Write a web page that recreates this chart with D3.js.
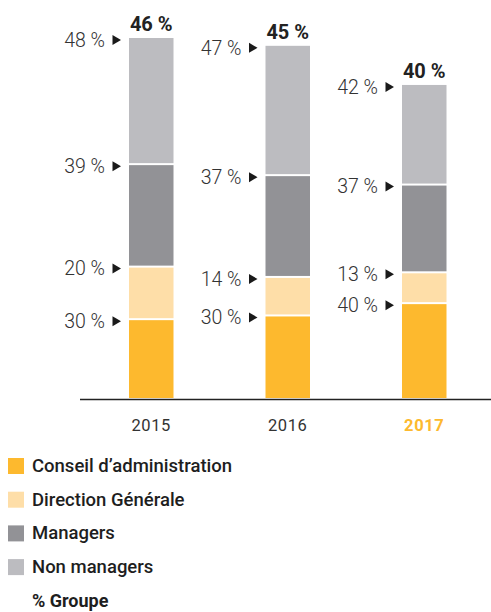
<!DOCTYPE html>
<html>
<head>
<meta charset="utf-8">
<script src="https://cdn.jsdelivr.net/npm/d3@7"></script>
<style>
  html, body { margin: 0; padding: 0; background: #fff; }
  svg { display: block; font-family: Roboto, "Noto Sans", sans-serif; }
</style>
</head>
<body>
<svg id="chart" width="491" height="612"></svg>
<script>
// Share of women per population, by year
const years = ["2015", "2016", "2017"];
const groupShare = [46, 45, 40];           // "% Groupe": total bar height
const conseil = [30, 30, 40];              // Conseil d'administration
const direction = [20, 14, 13];            // Direction Générale
const managers = [39, 37, 37];             // Managers
const nonManagers = [48, 47, 42];          // Non managers

const seriesNames = ["Conseil d’administration", "Direction Générale", "Managers", "Non managers"];
const seriesValues = [conseil, direction, managers, nonManagers];
const seriesColors = ["#fdb92e", "#fedea8", "#929296", "#bcbcc0"];
const highlightYear = "2017";

const svg = d3.select("#chart");

const x = d3.scaleBand().domain(years).range([60, 515.5]).paddingInner(0.674).paddingOuter(0.5055);
const y = d3.scaleLinear().domain([0, 46]).range([398, 38]);

// Each bar is as tall as the group share; its segments split it in proportion to the labels.
years.forEach((yr, i) => {
  const vals = seriesValues.map(s => s[i]);
  const sum = d3.sum(vals);
  const total = groupShare[i];
  let acc = 0;
  const g = svg.append("g");
  const x0 = x(yr), bw = x.bandwidth();
  vals.forEach((v, k) => {
    const lo = acc, hi = acc + v / sum * total;
    acc = hi;
    const yTop = y(hi), yBot = y(lo);
    const top = yTop + (k === vals.length - 1 ? 0 : 1);
    const bot = yBot - (k === 0 ? 0 : 1);
    g.append("rect")
      .attr("x", x0).attr("y", top)
      .attr("width", bw).attr("height", bot - top)
      .attr("fill", seriesColors[k]);
    // value label with arrow pointing at the segment top
    const cy = yTop + 2;
    g.append("path")
      .attr("d", `M${x0 - 16.5},${cy - 5}L${x0 - 8},${cy}L${x0 - 16.5},${cy + 5}Z`)
      .attr("fill", "#1a1a1a");
    g.append("text")
      .attr("x", x0 - 24).attr("y", cy)
      .attr("dy", "0.35em")
      .attr("text-anchor", "end")
      .attr("font-size", 19.5).attr("font-weight", 300)
      .attr("fill", "#333")
      .text(`${v} %`);
  });
  g.append("text")
    .attr("x", x0 + bw / 2).attr("y", y(total) - 7)
    .attr("text-anchor", "middle")
    .attr("font-size", 20).attr("font-weight", 700)
    .attr("fill", "#222")
    .text(`${total} %`);
});

// baseline
svg.append("line")
  .attr("x1", 80).attr("x2", 491)
  .attr("y1", 399.5).attr("y2", 399.5)
  .attr("stroke", "#222").attr("stroke-width", 1.6);

// year labels
const xAxis = d3.axisBottom(x).tickSize(0).tickPadding(0);
const ax = svg.append("g").attr("transform", "translate(0,419)").call(xAxis);
ax.select(".domain").remove();
ax.selectAll("text")
  .attr("font-size", 16.5)
  .attr("font-family", "Roboto, sans-serif")
  .attr("dy", "0.71em")
  .attr("fill", d => d === highlightYear ? "#fdb92e" : "#333")
  .attr("font-weight", d => d === highlightYear ? 700 : 400)
  .style("letter-spacing", "0.6px");

// legend
const legend = svg.append("g");
seriesNames.forEach((name, k) => {
  const cy = 465.5 + k * 33.7;
  legend.append("rect")
    .attr("x", 8).attr("y", cy - 7.5)
    .attr("width", 16).attr("height", 16)
    .attr("fill", seriesColors[k]);
  legend.append("text")
    .attr("x", 32).attr("y", cy)
    .attr("dy", "0.35em")
    .attr("font-size", 18.5).attr("font-weight", 500)
    .attr("fill", "#1e1e1e")
    .text(name);
});
legend.append("text")
  .attr("x", 32).attr("y", 600.5)
  .attr("dy", "0.35em")
  .attr("font-size", 18).attr("font-weight", 700)
  .attr("fill", "#1e1e1e")
  .text("% Groupe");
</script>
</body>
</html>
